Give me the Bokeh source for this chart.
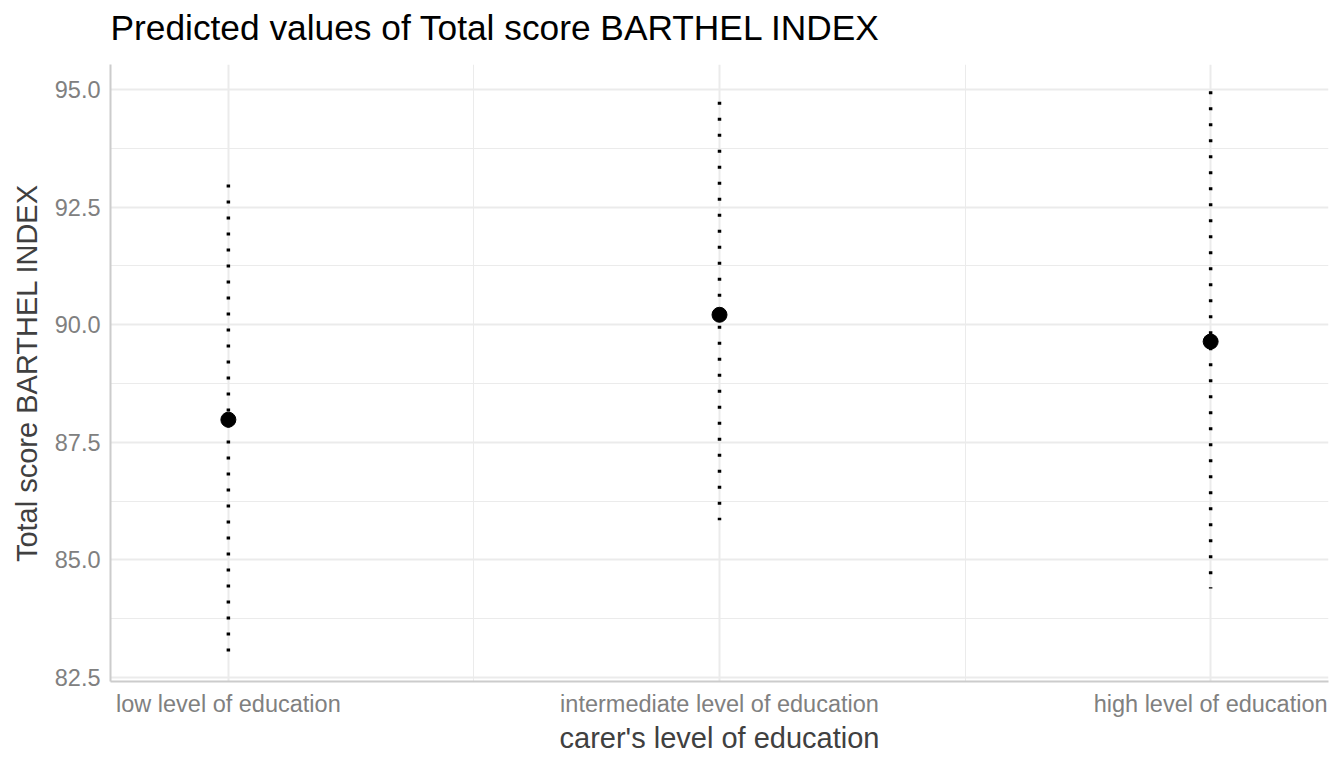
from bokeh.plotting import figure
from bokeh.models import Range1d, FixedTicker, ColumnDataSource, Title
from bokeh.embed import file_html
from bokeh.resources import INLINE

categories = ["low level of education", "intermediate level of education", "high level of education"]
predicted = [87.98, 90.21, 89.64]
ci_low = [83.05, 85.84, 84.39]
ci_high = [92.98, 94.74, 94.96]
x_pos = [1, 2, 3]
y_ticks = [82.5, 85.0, 87.5, 90.0, 92.5, 95.0]
y_minor = [83.75, 86.25, 88.75, 91.25, 93.75]

FONT = "Liberation Sans"

p = figure(width=1336, height=756, output_backend="svg", toolbar_location=None,
           x_range=Range1d(0.76, 3.24), y_range=Range1d(82.415, 95.53),
           title="Predicted values of Total score BARTHEL INDEX",
           min_border_left=110, min_border_right=8, min_border_bottom=70, min_border_top=10)

p.background_fill_color = "white"
p.border_fill_color = "white"
p.outline_line_color = None

p.title.text_font = FONT
p.title.text_font_size = "35.3px"
p.title.text_font_style = "normal"
p.title.text_color = "#000000"
p.title.align = "left"
p.title.standoff = 10

# spacer between title and plot frame
p.add_layout(Title(text=" ", text_font_size="1px", standoff=10), "above")

src = ColumnDataSource(dict(x=x_pos, y=predicted, lo=ci_low, hi=ci_high))
p.segment(x0="x", y0="hi", x1="x", y1="lo", source=src, line_color="black",
          line_width=3.5, line_dash="3 13", line_cap="butt")
p.scatter(x="x", y="y", source=src, size=15, color="black")

# axes
p.xaxis.ticker = FixedTicker(ticks=x_pos, minor_ticks=[1.5, 2.5])
p.xaxis.major_label_overrides = {i: c for i, c in zip(x_pos, categories)}
p.yaxis.ticker = FixedTicker(ticks=y_ticks, minor_ticks=y_minor)
p.yaxis.major_label_overrides = {t: f"{t:.1f}" for t in y_ticks}

for ax in (p.xaxis, p.yaxis):
    ax.axis_line_color = "#cccccc"
    ax.axis_line_width = 2
    ax.major_tick_line_color = None
    ax.minor_tick_line_color = None
    ax.major_tick_out = 0
    ax.major_tick_in = 0
    ax.minor_tick_out = 0
    ax.minor_tick_in = 0
    ax.major_label_text_font = FONT
    ax.major_label_text_font_size = "23.5px"
    ax.major_label_text_color = "#808080"
    ax.axis_label_text_font = FONT
    ax.axis_label_text_font_size = "29px"
    ax.axis_label_text_font_style = "normal"
    ax.axis_label_text_color = "#404040"

p.xaxis.axis_label = "carer's level of education"
p.yaxis.axis_label = "Total score BARTHEL INDEX"
p.xaxis.major_label_standoff = 9
p.xaxis.axis_label_standoff = 2
p.yaxis.major_label_standoff = 10
p.yaxis.axis_label_standoff = 9

for g in (p.xgrid, p.ygrid):
    g.grid_line_color = "#ebebeb"
    g.grid_line_width = 2
    g.minor_grid_line_color = "#ebebeb"
    g.minor_grid_line_width = 1

open("out.html", "w").write(file_html(p, INLINE))
